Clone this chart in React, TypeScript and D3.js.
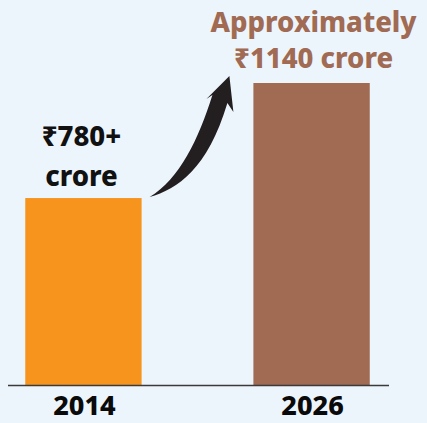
import React, { useEffect, useRef } from 'react'
import * as d3 from 'd3'

const width = 427
const height = 423

const years = ['2014', '2026']
const values = [780, 1140]
const valueLines = [['₹780+', 'crore'], ['Approximately', '₹1140 crore']]
const barColors = ['#F7941D', '#A06A53']
const labelColors = ['#111111', '#A06A53']

const App = () => {
  const ref = useRef(null)

  useEffect(() => {
    const svg = d3.select(ref.current)
    svg.selectAll('*').remove()

    svg.append('rect').attr('width', width).attr('height', height).attr('fill', '#EDF5FC')

    const x = d3.scaleBand()
      .domain(years)
      .range([7, 388])
      .paddingInner(0.49)
      .paddingOuter(0.08)

    // baseline doesn't sit at zero in the original
    const y = d3.scaleLinear()
      .domain([195, 1140])
      .range([385, 83])

    const g = svg.append('g')

    g.selectAll('rect.bar')
      .data(values)
      .enter().append('rect')
      .attr('class', 'bar')
      .attr('x', (d, i) => x(years[i]))
      .attr('y', d => y(d))
      .attr('width', x.bandwidth())
      .attr('height', d => y(195) - y(d))
      .attr('fill', (d, i) => barColors[i])

    g.append('line')
      .attr('x1', 8).attr('x2', 389)
      .attr('y1', y(195) + 0.5).attr('y2', y(195) + 0.5)
      .attr('stroke', '#3a3a3a')
      .attr('stroke-width', 1.3)

    const font = "'Noto Sans', sans-serif"

    g.selectAll('text.year')
      .data(years)
      .enter().append('text')
      .attr('class', 'year')
      .attr('x', d => x(d) + x.bandwidth() / 2 + 1)
      .attr('y', 415)
      .attr('text-anchor', 'middle')
      .attr('font-family', font)
      .attr('font-weight', 800)
      .attr('font-size', 27)
      .attr('fill', '#0a0a0a')
      .text(d => d)

    // value labels above the bars
    values.forEach((v, i) => {
      const cx = x(years[i]) + x.bandwidth() / 2 + (i === 0 ? -2 : 2)
      const lines = valueLines[i]
      const gap = i === 0 ? 40 : 36
      const last = y(v) - (i === 0 ? 12 : 15)
      lines.forEach((t, j) => {
        g.append('text')
          .attr('x', cx)
          .attr('y', last - (lines.length - 1 - j) * gap)
          .attr('text-anchor', 'middle')
          .attr('font-family', font)
          .attr('font-weight', 800)
          .attr('font-size', 27.5)
          .attr('fill', labelColors[i])
          .text(t)
      })
    })

    // curved arrow between the two bars
    const tx = x(years[0]) + x.bandwidth() + 8
    const ty = y(values[0]) - 1
    const hx = x(years[1]) - 24
    const hy = y(values[1]) - 7
    const p = d3.path()
    p.moveTo(tx, ty)
    p.bezierCurveTo(tx + 28, ty - 8, tx + 58, ty - 28, hx - 2, hy + 27)
    p.lineTo(hx + 4, hy + 36)
    p.lineTo(hx, hy)
    p.lineTo(hx - 23, hy + 23)
    p.lineTo(hx - 17, hy + 19)
    p.bezierCurveTo(tx + 49, ty - 58, tx + 30, ty - 18, tx, ty)
    p.closePath()
    g.append('path').attr('d', p.toString()).attr('fill', '#231F20')
  }, [])

  return (
    <svg ref={ref} width={width} height={height}
      style={{ position: 'absolute', left: 0, top: 0, display: 'block' }} />
  )
}

export default App
